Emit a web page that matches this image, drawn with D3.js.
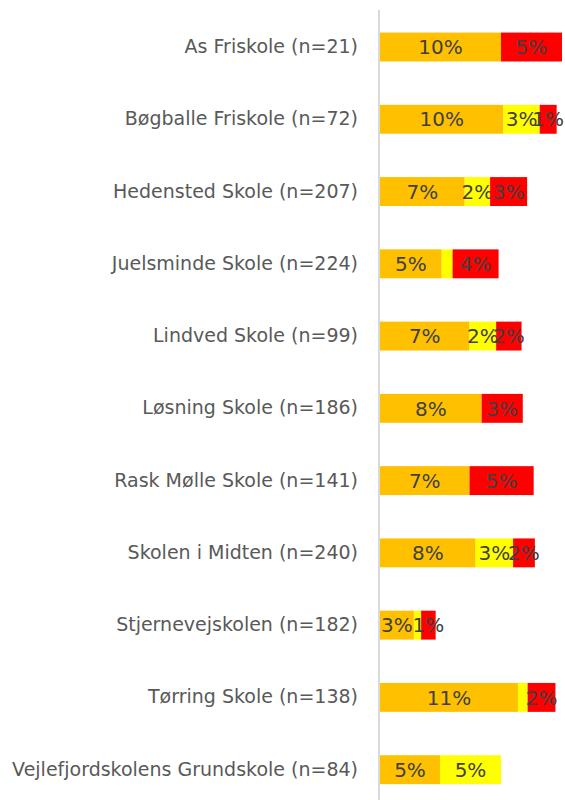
<!DOCTYPE html>
<html>
<head>
<meta charset="utf-8">
<script src="https://cdn.jsdelivr.net/npm/d3@7"></script>
<style>
  body { margin: 0; background: #fff; }
  svg { display: block; }
</style>
</head>
<body>
<svg id="chart"></svg>
<script>
var width = 565, height = 800;

// schools and shares (percent)
var schools = ["As Friskole (n=21)", "Bøgballe Friskole (n=72)", "Hedensted Skole (n=207)",
  "Juelsminde Skole (n=224)", "Lindved Skole (n=99)", "Løsning Skole (n=186)",
  "Rask Mølle Skole (n=141)", "Skolen i Midten (n=240)", "Stjernevejskolen (n=182)",
  "Tørring Skole (n=138)", "Vejlefjordskolens Grundskole (n=84)"];
var orange = [10.0, 10.2, 7.0, 5.1, 7.4, 8.4, 7.4, 7.9, 2.8, 11.4, 4.96];
var yellow = [0, 3.0, 2.1, 0.9, 2.2, 0, 0, 3.1, 0.6, 0.8, 5.04];
var red    = [5.04, 1.4, 3.06, 3.8, 2.1, 3.4, 5.3, 1.8, 1.2, 2.3, 0];

var seriesNames = ["orange", "yellow", "red"];
var colors = { orange: "#FFC000", yellow: "#FFFF00", red: "#FF0000" };

var rows = schools.map(function(s, i) {
  return { school: s, orange: orange[i], yellow: yellow[i], red: red[i] };
});

var svg = d3.select("#chart").attr("width", width).attr("height", height);

var x0 = 380;
var x = d3.scaleLinear().domain([0, 15]).range([x0, x0 + 15 * 12.1]);
var y = d3.scaleBand().domain(schools).range([10.9, 805.8]).paddingInner(0.6).paddingOuter(0.3);

var stack = d3.stack().keys(seriesNames)(rows);

var groups = svg.append("g").selectAll("g")
  .data(stack).enter().append("g")
  .attr("fill", function(d) { return colors[d.key]; });

groups.selectAll("rect")
  .data(function(d) { return d; })
  .enter().append("rect")
  .attr("x", function(d) { return x(d[0]); })
  .attr("y", function(d) { return y(d.data.school); })
  .attr("width", function(d) { return x(d[1]) - x(d[0]); })
  .attr("height", y.bandwidth());

// data labels
groups.selectAll("text")
  .data(function(d) { return d.filter(function(p) { return p[1] - p[0] >= 1; }); })
  .enter().append("text")
  .attr("x", function(d) { return (x(d[0]) + x(d[1])) / 2; })
  .attr("y", function(d) { return y(d.data.school) + y.bandwidth() / 2; })
  .attr("dy", "0.36em")
  .attr("text-anchor", "middle")
  .attr("fill", "#404040")
  .style("font-family", "DejaVu Sans")
  .style("font-size", "20px")
  .text(function(d) { return Math.round(d[1] - d[0]) + "%"; });

// vertical axis
var yAxis = d3.axisLeft(y).tickSize(0).tickPadding(21);
var ax = svg.append("g").attr("transform", "translate(" + (x0 - 1) + ",0)").call(yAxis);
ax.select(".domain").attr("stroke", "#d9d9d9").attr("stroke-width", 2)
  .attr("d", "M0,10V800");
ax.selectAll("text")
  .attr("fill", "#595959")
  .style("font-family", "DejaVu Sans")
  .style("font-size", "19px");
</script>
</body>
</html>
